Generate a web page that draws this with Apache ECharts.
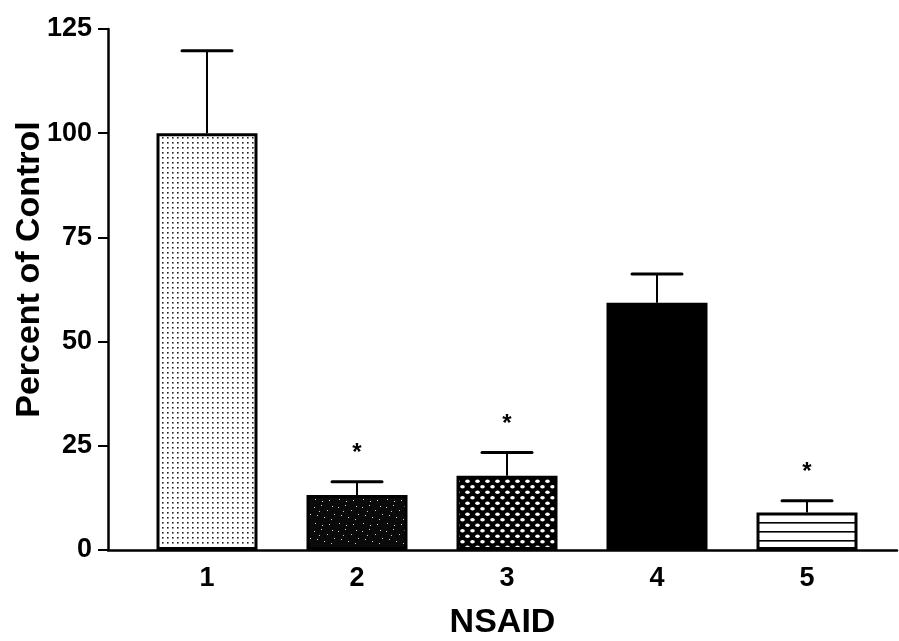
<!DOCTYPE html>
<html><head><meta charset="utf-8">
<script src="https://cdn.jsdelivr.net/npm/echarts@6/dist/echarts.min.js"></script>
<style>html,body{margin:0;padding:0;background:#fff}#c{width:899px;height:641px}</style>
</head><body><div id="c"></div>
<script>
// ---- data ----
const categories = [1, 2, 3, 4, 5];
const means = [100, 13.2, 17.8, 59.3, 9.0];
const errorTops = [119.8, 16.4, 23.4, 66.2, 11.8];
const significant = [0, 1, 1, 0, 1];
const yTicks = [0, 25, 50, 75, 100, 125];
const xAxisName = 'NSAID';
const yAxisName = 'Percent of Control';

// ---- fill patterns ----
function mk(w, h, draw) { const c = document.createElement('canvas'); c.width = w; c.height = h; draw(c.getContext('2d'), w, h); return c; }
const pat1 = mk(5, 5, (g, w, h) => { g.fillStyle = '#fff'; g.fillRect(0, 0, w, h); g.fillStyle = '#222'; g.fillRect(2, 2, 1.6, 1.6); });
const pat2 = mk(24, 24, (g, w, h) => {
  g.fillStyle = '#0a0a0a'; g.fillRect(0, 0, w, h); g.fillStyle = '#ccc';
  [[2, 3], [9, 1], [15, 6], [20, 2], [5, 11], [12, 13], [19, 15], [3, 19], [10, 21], [17, 20], [22, 10], [7, 7]].forEach(p => g.fillRect(p[0], p[1], 1, 1));
});
const pat3 = mk(10, 11, (g, w, h) => {
  g.fillStyle = '#000'; g.fillRect(0, 0, w, h); g.fillStyle = '#fff';
  [[2.5, 2.7], [7.5, 8.2]].forEach(p => { g.beginPath(); g.ellipse(p[0], p[1], 2.3, 1.8, 0, 0, Math.PI * 2); g.fill(); });
});
const pat5 = mk(4, 9, (g, w, h) => { g.fillStyle = '#fff'; g.fillRect(0, 0, w, h); g.fillStyle = '#000'; g.fillRect(0, 0, w, 1.6); });
const fills = [
  { image: pat1, repeat: 'repeat' },
  { image: pat2, repeat: 'repeat' },
  { image: pat3, repeat: 'repeat' },
  '#000',
  { image: pat5, repeat: 'repeat' }
];

const FONT = "'Liberation Sans', Arial, Helvetica, sans-serif";
const chart = echarts.init(document.getElementById('c'), null, { renderer: 'canvas' });
chart.setOption({
  animation: false,
  backgroundColor: '#fff',
  grid: { left: 108, right: 2, top: 29, bottom: 91, containLabel: false, outerBoundsMode: 'none' },
  xAxis: {
    type: 'value', min: 0.34, max: 5.6,
    name: xAxisName, nameLocation: 'middle', nameGap: 56, nameMoveOverlap: false,
    nameTextStyle: { fontFamily: FONT, fontSize: 34, fontWeight: 'bold', color: '#000' },
    axisLine: { show: true, lineStyle: { color: '#000', width: 2.5 } },
    axisTick: { show: false },
    splitLine: { show: false },
    axisLabel: {
      fontFamily: FONT, fontSize: 27, fontWeight: 'bold', color: '#000', margin: 15,
      showMinLabel: true, showMaxLabel: true,
      formatter: v => (categories.indexOf(Math.round(v * 1000) / 1000) >= 0 ? String(Math.round(v)) : '')
    }
  },
  yAxis: {
    type: 'value', min: yTicks[0], max: yTicks[yTicks.length - 1], interval: 25,
    name: yAxisName, nameLocation: 'middle', nameGap: 61, nameMoveOverlap: false,
    nameTextStyle: { fontFamily: FONT, fontSize: 34, fontWeight: 'bold', color: '#000', padding: [0, 0, 0, 40] },
    axisLine: { show: true, lineStyle: { color: '#000', width: 2.5 } },
    axisTick: { show: true, inside: false, length: 10, lineStyle: { color: '#000', width: 2 } },
    splitLine: { show: false },
    axisLabel: { fontFamily: FONT, fontSize: 27, fontWeight: 'bold', color: '#000', margin: 16 }
  },
  series: [
    {
      type: 'bar', barWidth: 101,
      data: categories.map((c, i) => ({ value: [c, means[i]], itemStyle: { color: fills[i] } })),
      itemStyle: { borderColor: '#000', borderWidth: 3 }
    },
    {
      type: 'custom',
      data: categories.map((c, i) => [c, means[i], errorTops[i], significant[i]]),
      encode: { x: 0, y: [1, 2] },
      renderItem: function (params, api) {
        const x = api.value(0), m = api.value(1), e = api.value(2), s = api.value(3);
        const p0 = api.coord([x, m]), p1 = api.coord([x, e]);
        const ch = [
          { type: 'line', shape: { x1: p0[0], y1: p0[1], x2: p1[0], y2: p1[1] }, style: { stroke: '#000', lineWidth: 2 } },
          { type: 'line', shape: { x1: p1[0] - 25, y1: p1[1], x2: p1[0] + 25, y2: p1[1] }, style: { stroke: '#000', lineWidth: 3, lineCap: 'round' } }
        ];
        if (s) ch.push({ type: 'text', style: { text: '*', x: p1[0], y: p1[1] - 28, fontSize: 24, fontWeight: 'bold', fontFamily: FONT, align: 'center', verticalAlign: 'middle', fill: '#000' } });
        return { type: 'group', children: ch };
      },
      z: 3
    }
  ]
});
</script></body></html>
